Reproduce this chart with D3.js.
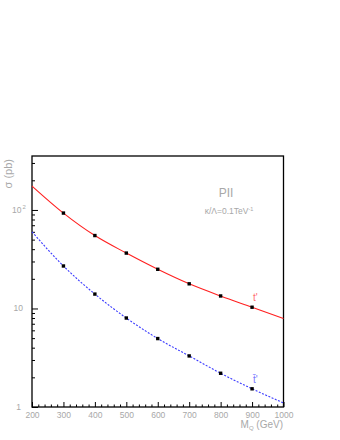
<!DOCTYPE html>
<meta charset="utf-8">
<script src="https://d3js.org/d3.v7.min.js"></script>
<style>
  body { margin: 0; background: #fff; }
  text { font-family: "Liberation Sans", Arial, sans-serif; fill: #a8a8a8; }
</style>
<div id="my_dataviz"></div>
<script>
// data
var mass = [200, 300, 400, 500, 600, 700, 800, 900, 1000];
var sigmaT = [175, 93, 55, 36.5, 25, 17.8, 13.4, 10.3, 7.9];
var sigmaTbar = [60, 27, 14, 8.0, 4.95, 3.3, 2.2, 1.53, 1.1];
var markerMass = [300, 400, 500, 600, 700, 800, 900];
var xTickLabels = [200, 300, 400, 500, 600, 700, 800, 900, 1000];

var W = 340, H = 440;
var padL = 32, padR = 283.5, padT = 156, padB = 407;

var svg = d3.select("#my_dataviz").append("svg")
  .attr("width", W).attr("height", H);

var x = d3.scaleLinear().domain([200, 1000]).range([padL, padR]);
var y = d3.scaleLog().domain([1, 353]).range([padB, padT]);

// x axis ticks (inward)
var xMinor = d3.range(200, 1001, 20).filter(function(v) { return v % 100 != 0; });
svg.append("g")
  .attr("transform", "translate(0," + padB + ")")
  .call(d3.axisBottom(x).tickValues(xMinor).tickSize(-2.5).tickFormat(""))
  .call(function(g) { g.select(".domain").remove(); g.selectAll("line").attr("stroke", "#000"); });
svg.append("g")
  .attr("transform", "translate(0," + padB + ")")
  .call(d3.axisBottom(x).tickValues(xTickLabels).tickSize(-5).tickPadding(5).tickFormat(d3.format("d")))
  .call(function(g) {
    g.select(".domain").remove();
    g.selectAll("line").attr("stroke", "#000");
    g.selectAll("text").attr("fill", "#a8a8a8").style("font-size", "8.5px");
  });

// y axis ticks (inward)
var yMinor = [];
[1, 10, 100].forEach(function(d) {
  for (var k = 2; k <= 9; k++) if (d * k < 353) yMinor.push(d * k);
});
svg.append("g")
  .attr("transform", "translate(" + padL + ",0)")
  .call(d3.axisLeft(y).tickValues(yMinor).tickSize(-3).tickFormat(""))
  .call(function(g) { g.select(".domain").remove(); g.selectAll("line").attr("stroke", "#000"); });
svg.append("g")
  .attr("transform", "translate(" + padL + ",0)")
  .call(d3.axisLeft(y).tickValues([1, 10, 100]).tickSize(-6).tickFormat(""))
  .call(function(g) { g.select(".domain").remove(); g.selectAll("line").attr("stroke", "#000"); });

// y tick labels
svg.append("text").attr("x", 21).attr("y", y(1) + 3).attr("text-anchor", "end")
  .style("font-size", "8.5px").text("1");
svg.append("text").attr("x", 23).attr("y", y(10) + 3).attr("text-anchor", "end")
  .style("font-size", "8.5px").text("10");
var t100 = svg.append("text").attr("x", 12).attr("y", y(100) + 3).style("font-size", "8.5px");
t100.append("tspan").text("10");
t100.append("tspan").attr("dx", 1).attr("dy", -4).style("font-size", "6px").text("2");

// frame
svg.append("rect")
  .attr("x", padL).attr("y", padT)
  .attr("width", padR - padL).attr("height", padB - padT)
  .attr("fill", "none").attr("stroke", "#000").attr("stroke-width", 1.3);

// curves
var line = d3.line()
  .x(function(d) { return x(d[0]); })
  .y(function(d) { return y(d[1]); })
  .curve(d3.curveMonotoneX);

svg.append("path")
  .datum(d3.zip(mass, sigmaT))
  .attr("d", line)
  .attr("fill", "none").attr("stroke", "#ff2020").attr("stroke-width", 1.1);

svg.append("path")
  .datum(d3.zip(mass, sigmaTbar))
  .attr("d", line)
  .attr("fill", "none").attr("stroke", "#3a3aff").attr("stroke-width", 1.1)
  .attr("stroke-dasharray", "2,1.5");

// markers
var ms = 3.4;
[sigmaT, sigmaTbar].forEach(function(series) {
  svg.append("g").selectAll("rect")
    .data(markerMass)
    .enter().append("rect")
      .attr("x", function(m) { return x(m) - ms / 2; })
      .attr("y", function(m) { return y(series[mass.indexOf(m)]) - ms / 2; })
      .attr("width", ms).attr("height", ms)
      .attr("fill", "#000");
});

// axis titles
svg.append("text")
  .attr("transform", "translate(12,159) rotate(-90)")
  .attr("text-anchor", "end")
  .style("font-size", "11px")
  .text("\u03c3 (pb)");

var xt = svg.append("text").attr("x", 283).attr("y", 428).attr("text-anchor", "end")
  .style("font-size", "10px");
xt.append("tspan").text("M");
xt.append("tspan").attr("dy", 2).style("font-size", "6px").text("Q");
xt.append("tspan").attr("dy", -2).text(" (GeV)");

// annotations
svg.append("text").attr("x", 226).attr("y", 197).attr("text-anchor", "middle")
  .style("font-size", "12px").text("PII");
var kt = svg.append("text").attr("x", 229).attr("y", 214).attr("text-anchor", "middle")
  .style("font-size", "8.5px");
kt.append("tspan").text("\u03ba/\u039b=0.1TeV");
kt.append("tspan").attr("dy", -3).style("font-size", "5.5px").text("-1");

svg.append("text").attr("x", 253).attr("y", 301).style("font-size", "10px")
  .style("fill", "#ff7070").text("t'");
svg.append("text").attr("x", 253).attr("y", 383).style("font-size", "10px")
  .style("fill", "#7a7aff").text("t\u0304'");
</script>
